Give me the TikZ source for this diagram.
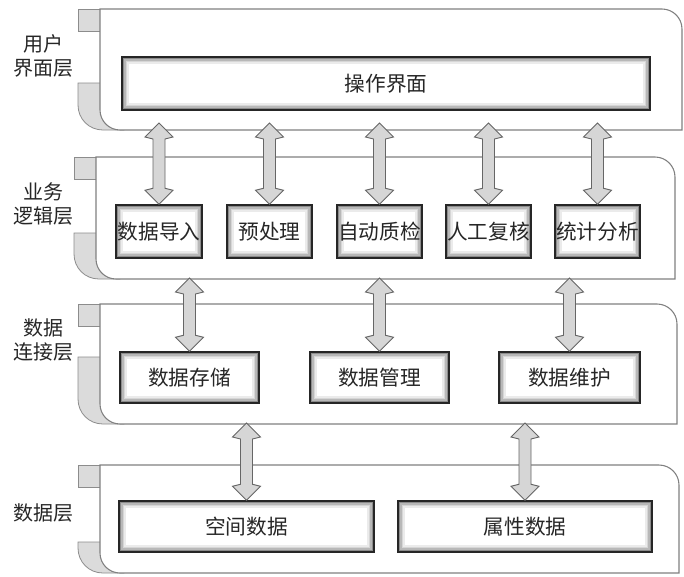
\documentclass[tikz,border=0pt]{standalone}
\usepackage{fontspec}
\setmainfont{Noto Sans CJK SC}
\usetikzlibrary{calc}

\tikzset{
  frame/.style={draw=black!50, line width=0.8pt, fill=white},
  tab/.style={draw=black!45, line width=0.6pt, fill=black!14},
  module/.style={draw=black!85, line width=1.1pt, fill=white, inner sep=0pt, text=black!85,
    font=\fontsize{15.5}{18}\selectfont,
    path picture={\foreach \d/\c in {1.3/45,2.4/28,3.5/16,4.6/8}{
      \draw[black!\c, line width=1.2pt] ([xshift=\d pt,yshift=-\d pt]path picture bounding box.north west) rectangle ([xshift=-\d pt,yshift=\d pt]path picture bounding box.south east);}}},
  layername/.style={align=center, text=black!85, font=\fontsize{15}{17.6}\selectfont},
  fat/.style={draw=black!60, line width=0.7pt, fill=black!16,
    to path={let \p1=(\tikztostart), \p2=(\tikztotarget) in
      (\x2,\y1) -- ++(10.5pt,-10.5pt) -- ++(-6pt,-1.5pt) -- (\x2+4.5pt,\y2+12pt) -- ++(6pt,-1.5pt) -- (\x2,\y2)
      -- ++(-10.5pt,10.5pt) -- ++(6pt,1.5pt) -- (\x2-4.5pt,\y1-12pt) -- ++(-6pt,1.5pt) -- cycle}}
}

\newcommand\layerframe[5]{
  \draw[tab] ({#1-22},#2) rectangle (#1,{#2+22});
  \draw[tab] ({#1-22},#5) -- ({#1+24},#5) -- ({#1+24},#4) -- ({#1+3},#4) .. controls ({#1-11},#4) and ({#1-22},{#4-11}) .. ({#1-22},{#4-25}) -- cycle;
  \draw[frame] (#1,#2) -- ({#3-20},#2) .. controls ({#3-9},#2) and (#3,{#2+9}) .. (#3,{#2+20}) -- (#3,#4) -- ({#1+20},#4) .. controls ({#1+9},#4) and (#1,{#4-9}) .. (#1,{#4-20}) -- cycle;
}

\begin{document}
\begin{tikzpicture}[x=0.75pt,y=-0.75pt]
\useasboundingbox (0,0) rectangle (684,576);
\layerframe{100}{9}{682}{130}{83}
\layerframe{96}{157}{675}{279}{233}
\layerframe{100}{304}{677}{424}{357}
\layerframe{100}{465}{679}{573}{542}
\coordinate (ui-b) at (0,123);
\coordinate (biz-b) at (0,278);
\coordinate (con-b) at (0,423);

\node[layername] (ui-n) at (43,56) {用户\\界面层};
\node[layername] (biz-n) at (43,204) {业务\\逻辑层};
\node[layername] (con-n) at (43,340) {数据\\连接层};
\node[layername] (dat-n) at (43,513) {数据层};

\node[module, minimum width=396pt, minimum height=39.75pt] (gui) at (386,83.5) {操作界面};

\node[module, minimum width=64.5pt, minimum height=39.75pt] (imp) at (159,231.5) {数据导入};
\node[module, minimum width=63.75pt, minimum height=39.75pt] (pre) at (269.5,231.5) {预处理};
\node[module, minimum width=63.75pt, minimum height=39.75pt] (aqc) at (379.5,231.5) {自动质检};
\node[module, minimum width=63.75pt, minimum height=39.75pt] (mqc) at (488.5,231.5) {人工复核};
\node[module, minimum width=63.75pt, minimum height=39.75pt] (sta) at (597.5,231.5) {统计分析};

\node[module, minimum width=104.25pt, minimum height=38.25pt] (sto) at (189.5,377.5) {数据存储};
\node[module, minimum width=104.25pt, minimum height=38.25pt] (man) at (379.5,377.5) {数据管理};
\node[module, minimum width=105.75pt, minimum height=38.25pt] (mnt) at (569.5,377.5) {数据维护};

\node[module, minimum width=191.25pt, minimum height=38.25pt] (spa) at (246.5,526.5) {空间数据};
\node[module, minimum width=190.5pt, minimum height=38.25pt] (att) at (525,526.5) {属性数据};

\draw[fat] (imp.north |- ui-b) to (imp.north);
\draw[fat] (pre.north |- ui-b) to (pre.north);
\draw[fat] (aqc.north |- ui-b) to (aqc.north);
\draw[fat] (mqc.north |- ui-b) to (mqc.north);
\draw[fat] (sta.north |- ui-b) to (sta.north);
\draw[fat] (sto.north |- biz-b) to (sto.north);
\draw[fat] (man.north |- biz-b) to (man.north);
\draw[fat] (mnt.north |- biz-b) to (mnt.north);
\draw[fat] (spa.north |- con-b) to (spa.north);
\draw[fat] (att.north |- con-b) to (att.north);
\end{tikzpicture}
\end{document}
